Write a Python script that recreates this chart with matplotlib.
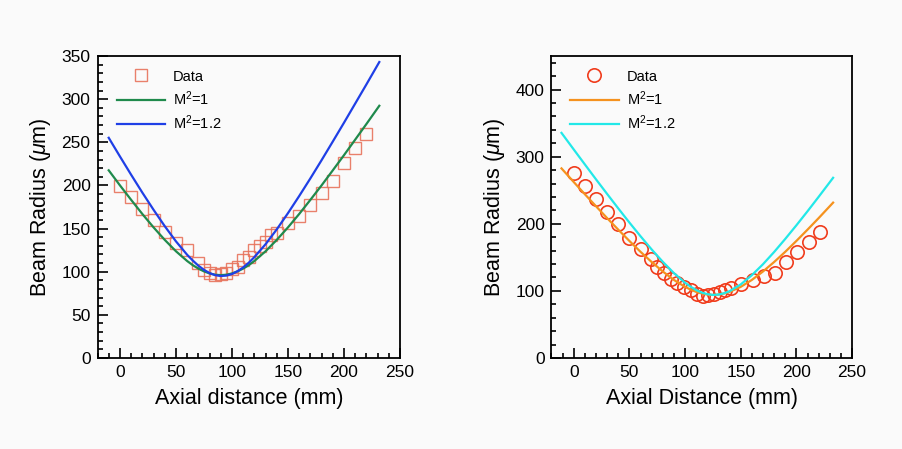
import matplotlib
matplotlib.use("Agg")
import matplotlib.pyplot as plt
from matplotlib.ticker import MultipleLocator

plt.rcParams['font.family'] = ['Liberation Sans', 'DejaVu Sans']
plt.rcParams['mathtext.fontset'] = 'custom'
plt.rcParams['mathtext.rm'] = 'Liberation Sans'
plt.rcParams['mathtext.it'] = 'Liberation Sans:italic'

# ---- Left panel data ----
left_data_x = [0, 10, 20, 30, 40, 50, 60, 70, 75, 80, 85, 90, 95, 100, 105, 110, 115,
               120, 125, 130, 135, 140, 150, 160, 170, 180, 190, 200, 210, 220]
left_data_y = [199, 186, 173, 160, 146, 133, 125, 110, 102, 99, 96, 97, 99, 103, 106, 113,
               117, 125, 130, 134, 142, 145, 156, 165, 177, 191, 205, 226, 243, 260]

left_fit_x = [-10, 0, 10, 20, 30, 40, 50, 60, 65, 70, 75, 80, 85, 90, 95, 100, 105, 110,
              115, 120, 130, 140, 150, 160, 170, 180, 190, 200, 210, 220, 231.5]
left_m1_y = [217.5, 200.1, 183.3, 166.9, 151.4, 136.9, 123.7, 112.4, 107.6, 103.6, 100.4,
             98.0, 96.5, 96.0, 96.5, 98.0, 100.4, 103.6, 107.6, 112.4, 123.7, 136.9, 151.4,
             166.9, 183.3, 200.1, 217.5, 235.1, 253.1, 271.2, 292.3]
left_m12_y = [255.2, 233.6, 212.4, 191.7, 171.8, 152.8, 135.2, 119.6, 113.0, 107.0, 102.2,
              98.4, 96.0, 95.0, 95.5, 97.3, 100.6, 104.9, 110.4, 116.9, 131.9, 149.1, 167.9,
              187.7, 208.2, 229.3, 250.9, 272.7, 294.9, 317.1, 343.0]

# ---- Right panel data ----
right_data_x = [0, 10, 20, 30, 40, 50, 60, 69, 75, 81, 87, 93, 99, 105, 111, 116, 121,
                126, 131, 136, 141, 150, 161, 171, 181, 191, 201, 211, 221]
right_data_y = [276, 256, 237, 217, 199, 179, 162, 147, 136, 126, 118, 112, 106, 101, 96,
                92, 94, 96, 98, 101, 104, 110, 116, 122, 127, 143, 158, 173, 188]

right_fit_x = [-11, 0, 10, 20, 30, 40, 50, 60, 70, 80, 90, 100, 105, 110, 115, 120, 125,
               130, 135, 140, 150, 160, 170, 180, 190, 200, 210, 220, 233]
right_m1_y = [282.5, 262.2, 244.0, 226.1, 208.4, 191.2, 174.4, 158.2, 143.0, 128.9, 116.3,
              106.0, 101.9, 98.5, 96.1, 94.5, 94.0, 94.5, 96.1, 98.5, 106.0, 116.3, 128.9,
              143.0, 158.2, 174.4, 191.2, 208.4, 231.5]
right_m12_y = [335.4, 310.7, 288.4, 266.2, 244.4, 222.9, 201.8, 181.4, 161.7, 143.3, 126.5,
               112.1, 106.2, 101.2, 97.5, 95.1, 94.0, 94.5, 96.4, 99.6, 109.6, 123.4, 139.7,
               157.9, 177.4, 197.7, 218.6, 240.1, 268.5]

labels = ["Data", "M$^2$=1", "M$^2$=1.2"]
left_xticks = [0, 50, 100, 150, 200, 250]
left_yticks = [0, 50, 100, 150, 200, 250, 300, 350]
right_xticks = [0, 50, 100, 150, 200, 250]
right_yticks = [0, 100, 200, 300, 400]

bg = '#fafafa'
fig = plt.figure(figsize=(9.02, 4.49), dpi=100, facecolor=bg)
axL = fig.add_axes([0.1081, 0.2027, 0.3354, 0.6726])
axR = fig.add_axes([0.6114, 0.2027, 0.3332, 0.6726])

def style(ax, xt, yt, ymax, yminor):
    ax.set_facecolor(bg)
    ax.set_xlim(-20, 250)
    ax.set_ylim(0, ymax)
    ax.set_xticks(xt)
    ax.set_yticks(yt)
    ax.xaxis.set_minor_locator(MultipleLocator(10))
    ax.yaxis.set_minor_locator(MultipleLocator(yminor))
    ax.tick_params(which='both', direction='in', top=False, right=False, width=1.2,
                   labelsize=12.5, pad=5)
    ax.tick_params(which='major', length=7)
    ax.tick_params(which='minor', length=3.5)
    for s in ax.spines.values():
        s.set_linewidth(1.3)

# Left
axL.plot(left_data_x, left_data_y, linestyle='none', marker='s', markersize=8,
         markerfacecolor='none', markeredgecolor='#e8735c', markeredgewidth=1.0,
         alpha=0.9, label=labels[0], zorder=2)
axL.plot(left_fit_x, left_m1_y, color='#1f8a4c', lw=1.6, label=labels[1], zorder=3)
axL.plot(left_fit_x, left_m12_y, color='#1f3fe6', lw=1.6, label=labels[2], zorder=3)
style(axL, left_xticks, left_yticks, 350, 10)
axL.set_xlabel("Axial distance (mm)", fontsize=15.5, labelpad=6)
axL.set_ylabel("Beam Radius ($\\mu$m)", fontsize=15.5, labelpad=6)

# Right
axR.plot(right_data_x, right_data_y, linestyle='none', marker='o', markersize=9.6,
         markerfacecolor='none', markeredgecolor='#f03c1c', markeredgewidth=1.2,
         label=labels[0], zorder=2)
axR.plot(right_fit_x, right_m1_y, color='#f5921e', lw=1.6, label=labels[1], zorder=3)
axR.plot(right_fit_x, right_m12_y, color='#22e8e8', lw=1.6, label=labels[2], zorder=3)
style(axR, right_xticks, right_yticks, 450, 20)
axR.set_xlabel("Axial Distance (mm)", fontsize=15.5, labelpad=6)
axR.set_ylabel("Beam Radius ($\\mu$m)", fontsize=15.5, labelpad=6)

for ax in (axL, axR):
    ax.legend(loc='upper left', bbox_to_anchor=(0.063, 0.955), frameon=False,
              fontsize=10.5, handlelength=3.3, handletextpad=0.55, labelspacing=0.38,
              borderpad=0, borderaxespad=0, numpoints=1)

fig.savefig("out.png", dpi=100, facecolor=bg)
